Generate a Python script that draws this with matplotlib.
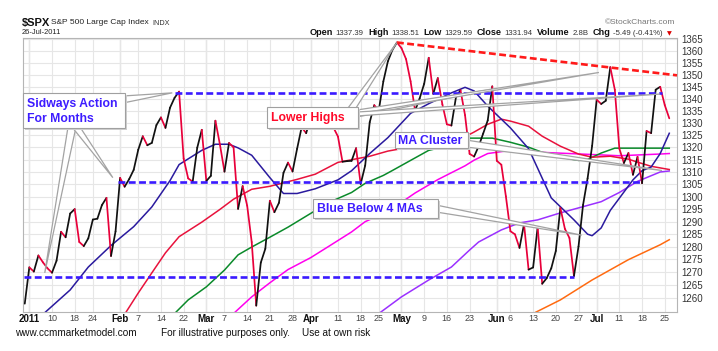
import numpy as np
import pandas as pd
import matplotlib
matplotlib.use("Agg")
import matplotlib.pyplot as plt
from matplotlib.collections import LineCollection
from matplotlib.patches import Polygon, Rectangle
from matplotlib.ticker import FixedLocator, NullLocator, NullFormatter

plt.rcParams['font.family'] = ['Liberation Sans', 'DejaVu Sans']

W, H = 718, 351

# trading days shown (31-Dec-2010 .. 26-Jul-2011)
holidays = ['2011-01-17', '2011-02-21', '2011-04-22', '2011-05-30', '2011-07-04']
days = pd.bdate_range('2010-12-31', '2011-07-26').drop(pd.to_datetime(holidays))

close = [1257.64,
         1271.87, 1270.20, 1276.56, 1273.85, 1271.50, 1269.75, 1274.48, 1285.96, 1283.76, 1293.24,
         1295.02, 1281.92, 1280.26, 1283.35, 1290.84, 1291.18, 1296.63, 1299.54, 1276.34, 1286.12,
         1307.59, 1304.03, 1307.10, 1310.87, 1319.05, 1324.57, 1320.88, 1321.87, 1329.15, 1332.32,
         1328.01, 1336.32, 1340.43, 1343.01, 1315.44, 1307.40, 1306.10, 1319.88, 1327.22,
         1306.33, 1308.44, 1330.97, 1321.15, 1310.13, 1321.82, 1320.02, 1295.11, 1304.28, 1296.39,
         1281.87, 1256.88, 1273.72, 1279.21, 1298.38, 1293.77, 1297.54, 1309.66, 1313.80, 1310.19,
         1319.44, 1328.26, 1325.83,
         1332.41, 1332.87, 1332.63, 1335.54, 1333.51, 1328.17, 1324.46, 1314.16, 1314.41, 1314.52,
         1319.68, 1305.14, 1312.62, 1330.36, 1337.38, 1335.25, 1347.24, 1355.66, 1360.48, 1363.61,
         1361.22, 1356.62, 1347.32, 1335.10, 1340.20, 1346.29, 1357.16, 1342.08, 1348.65, 1337.77,
         1329.47, 1328.98, 1340.68, 1343.60, 1333.27, 1317.37, 1316.28, 1320.47, 1325.69, 1331.10,
         1345.20,
         1314.55, 1312.94, 1300.16, 1286.17, 1284.94, 1279.56, 1289.00, 1270.98, 1271.83, 1287.87,
         1265.42, 1267.64, 1271.50, 1278.36, 1295.52, 1287.14, 1283.50, 1268.45, 1280.10, 1296.67,
         1307.41, 1320.64,
         1339.67, 1337.88, 1339.22, 1353.22, 1343.80, 1319.49, 1313.64, 1317.72, 1308.87, 1316.14,
         1305.44, 1326.73, 1325.84, 1343.80, 1345.02, 1337.43, 1331.94]

# moving averages (trading-day number, value)
ma_blue_day = [4, 10, 14, 19, 24, 28, 32, 34, 39, 42, 45, 47, 50, 54, 57, 60, 64, 69, 72, 76,
               80, 85, 89, 94, 97, 99, 102, 107, 111, 113, 116, 121, 124, 125, 127, 129, 134, 136,
               138, 140, 142]
ma_blue_val = [1253.5, 1263.0, 1272.0, 1280.5, 1288.0, 1295.9, 1306.5, 1313.0, 1318.8, 1321.3,
               1321.3, 1319.8, 1316.8, 1307.7, 1301.3, 1301.3, 1303.2, 1306.8, 1310.5, 1317.5,
               1324.0, 1334.0, 1338.0, 1342.5, 1344.8, 1343.3, 1337.0, 1328.0, 1319.5, 1311.5,
               1299.5, 1290.7, 1285.0, 1284.4, 1287.5, 1294.5, 1306.8, 1310.5, 1312.0, 1317.5,
               1325.8]
ma_red_day = [22, 25, 28, 31, 34, 39, 43, 46, 50, 54, 60, 64, 69, 76, 80, 86, 91, 96, 99, 102,
              105, 107, 111, 114, 118, 122, 125, 129, 133, 135, 138, 142]
ma_red_val = [1253.5, 1261.8, 1269.7, 1277.6, 1284.0, 1289.8, 1294.9, 1299.0, 1303.0, 1304.2,
              1307.0, 1309.1, 1313.9, 1316.4, 1318.5, 1320.5, 1322.2, 1323.4, 1326.3, 1329.5,
              1331.6, 1330.8, 1328.7, 1324.6, 1320.5, 1317.3, 1316.0, 1316.4, 1315.2, 1314.0,
              1312.3, 1311.0]
ma_green_day = [33, 36, 40, 44, 47, 50, 54, 58, 63, 67, 72, 75, 79, 81, 85, 89, 94, 98, 103, 107,
                111, 114, 118, 122, 124, 127, 130, 134, 138, 142]
ma_green_val = [1253.8, 1259.1, 1264.2, 1270.8, 1276.8, 1279.9, 1283.8, 1287.8, 1293.3, 1297.7,
                1301.7, 1305.4, 1308.6, 1310.6, 1314.7, 1318.8, 1320.9, 1323.8, 1323.8, 1322.1,
                1320.1, 1318.0, 1316.0, 1314.7, 1315.1, 1317.7, 1319.7, 1319.7, 1319.7, 1319.7]
ma_magenta_day = [46, 50, 54, 58, 63, 67, 72, 75, 78, 82, 86, 91, 94, 97, 99, 102, 107, 115, 125,
                  131, 140, 142]
ma_magenta_val = [1253.8, 1260.3, 1265.8, 1271.0, 1275.7, 1280.2, 1285.9, 1290.0, 1292.4, 1296.5,
                  1301.5, 1306.9, 1309.7, 1312.5, 1314.8, 1317.5, 1318.8, 1317.9, 1317.1, 1316.6,
                  1317.3, 1317.5]
ma_purple_day = [78, 83, 89, 94, 98, 100, 105, 109, 113, 118, 122, 127, 131, 135, 140, 142]
ma_purple_val = [1253.8, 1260.3, 1266.9, 1272.0, 1278.7, 1281.9, 1286.7, 1289.5, 1290.7, 1293.5,
                 1295.5, 1298.0, 1301.7, 1306.2, 1310.0, 1310.4]
ma_orange_day = [112, 118, 125, 133, 140, 142]
ma_orange_val = [1253.8, 1259.1, 1266.9, 1274.9, 1280.8, 1282.8]

# drawn-in trend lines: (start day, end day, start level, end level)
blue_levels = [(-0.2, 121, 1268.0, 1268.0), (20.6, 136, 1306.0, 1306.0), (33.2, 140.5, 1342.5, 1342.5)]
red_trend = (82, 143.7, 1363.6, 1349.8)

tick_dates = ['2011-01-03', '2011-01-10', '2011-01-18', '2011-01-24', '2011-02-01', '2011-02-07',
              '2011-02-14', '2011-02-22', '2011-03-01', '2011-03-07', '2011-03-14', '2011-03-21',
              '2011-03-28', '2011-04-01', '2011-04-11', '2011-04-18', '2011-04-25', '2011-05-02',
              '2011-05-09', '2011-05-16', '2011-05-23', '2011-06-01', '2011-06-06', '2011-06-13',
              '2011-06-20', '2011-06-27', '2011-07-01', '2011-07-11', '2011-07-18', '2011-07-25']
tick_labels = ['2011', '10', '18', '24', 'Feb', '7', '14', '22', 'Mar', '7', '14', '21', '28',
               'Apr', '11', '18', '25', 'May', '9', '16', '23', 'Jun', '6', '13', '20', '27',
               'Jul', '11', '18', '25']
month_labels = ['2011', 'Feb', 'Mar', 'Apr', 'May', 'Jun', 'Jul']
yticks = list(range(1260, 1366, 5))

BLUE_TXT = '#3d1cff'
RED_TXT = '#ff0a2a'

fig = plt.figure(figsize=(W / 100, H / 100), dpi=100)
ax = fig.add_axes([22.5 / W, 1 - 312 / H, (677 - 22.5) / W, (312 - 38) / H])
ax.set_yscale('log')
ax.set_xlim(-0.5, 143.7)
ax.set_ylim(1254.4, 1365.5)

xpos = np.arange(len(days))
tick_pos = [days.get_loc(pd.Timestamp(d)) for d in tick_dates]

ax.yaxis.set_major_locator(FixedLocator(yticks))
ax.yaxis.set_minor_locator(NullLocator())
ax.yaxis.set_minor_formatter(NullFormatter())
ax.set_yticklabels([str(v) for v in yticks])
ax.yaxis.tick_right()
ax.set_xticks(tick_pos)
ax.set_xticklabels(tick_labels)
ax.tick_params(axis='y', length=0, pad=3, labelsize=7, labelcolor='#333333')
ax.tick_params(axis='x', length=0, pad=1.5, labelsize=6.5, labelcolor='#444444')
for lab in ax.get_xticklabels():
    if lab.get_text() in month_labels:
        lab.set_fontweight('bold')
        lab.set_color('#111111')
        lab.set_fontsize(7)
ax.grid(True, color='#e6e6e6', lw=0.8)
for p, lab in zip(tick_pos, tick_labels):
    if lab in month_labels:
        ax.axvline(p, color='#cfcfcf', lw=0.9, zorder=0.5)
for s in ax.spines.values():
    s.set_color('#b5b5b5')
    s.set_linewidth(0.8)

# moving averages
ax.plot(ma_orange_day, ma_orange_val, color='#ff6a10', lw=1.1, zorder=2)
ax.plot(ma_purple_day, ma_purple_val, color='#9b30ff', lw=1.1, zorder=2)
ax.plot(ma_magenta_day, ma_magenta_val, color='#ff00ee', lw=1.1, zorder=2)
ax.plot(ma_green_day, ma_green_val, color='#0a8a2a', lw=1.1, zorder=2)
ax.plot(ma_red_day, ma_red_val, color='#e8123c', lw=1.1, zorder=2)
ax.plot(ma_blue_day, ma_blue_val, color='#2a1a9e', lw=1.1, zorder=2)

# close line, black on up days, red on down days
pts = np.column_stack([xpos, close])
segs = np.stack([pts[:-1], pts[1:]], axis=1)
seg_colors = ['#111111' if close[i + 1] >= close[i] else '#e8003a' for i in range(len(close) - 1)]
ax.add_collection(LineCollection(segs, colors=seg_colors, linewidths=1.25, zorder=3,
                                 capstyle='round', joinstyle='round'))

for x0, x1, y0, y1 in blue_levels:
    ax.plot([x0, x1], [y0, y1], color='#3a1aff', lw=1.9, dashes=(2.6, 1.3), zorder=4)
ax.plot(red_trend[:2], red_trend[2:], color='#ff1a1a', lw=1.9, dashes=(2.6, 1.3), zorder=4,
        clip_on=False)


def fxy(px, py):
    return (px / W, 1 - py / H)


def dxy(x, y):
    return tuple(fig.transFigure.inverted().transform(ax.transData.transform((x, y))))


def wedge(b1, b2, tip):
    poly = Polygon([fxy(*b1), fxy(*b2), dxy(*tip)], closed=True, transform=fig.transFigure,
                   fc='white', ec='#a3a3a3', lw=0.9, zorder=5)
    fig.add_artist(poly)


def box(x0, y0, x1, y1):
    sh = Rectangle(fxy(x0 + 2, y1 + 2), (x1 - x0) / W, (y1 - y0) / H, transform=fig.transFigure,
                   fc='#d0d0d0', ec='none', zorder=6)
    fig.add_artist(sh)
    r = Rectangle(fxy(x0, y1), (x1 - x0) / W, (y1 - y0) / H, transform=fig.transFigure,
                  fc='white', ec='#a0a0a0', lw=0.8, zorder=7)
    fig.add_artist(r)


# callout pointers
wedge((68, 127), (76, 127), (4.4, 1269.7))
wedge((72, 127), (80, 127), (19.4, 1307.7))
wedge((123, 96), (123, 103), (32.5, 1342.5))
wedge((348, 108), (356, 108), (82, 1363.6))
wedge((357, 111), (357, 117), (103, 1344.0))
wedge((357, 110), (357, 114), (126.5, 1351.0))
wedge((357, 112), (357, 116), (140, 1342.0))
wedge((466, 140), (466, 147), (140.4, 1310.6))
wedge((436, 205), (436, 212), (122.7, 1284.6))

box(23, 93, 125, 128)
box(267, 107, 358, 128)
box(395, 132, 468, 148)
box(313, 199, 438, 218)

bfont = dict(fontsize=8.8, fontweight='bold', zorder=8)
fig.text(*fxy(27, 104), 'Sidways Action', color=BLUE_TXT, va='center', ha='left', **bfont)
fig.text(*fxy(27, 119), 'For Months', color=BLUE_TXT, va='center', ha='left', **bfont)
fig.text(*fxy(308, 118), 'Lower Highs', color=RED_TXT, va='center', ha='center', **bfont)
fig.text(*fxy(430, 140.5), 'MA Cluster', color=BLUE_TXT, va='center', ha='center', **bfont)
fig.text(*fxy(370, 208.5), 'Blue Below 4 MAs', color=BLUE_TXT, va='center', ha='center', **bfont)

# header
fig.text(*fxy(22, 23), '$SPX', fontsize=8, fontweight='bold', va='center', color='#111111')
fig.text(*fxy(51, 23), 'S&P 500 Large Cap Index', fontsize=6, va='center', color='#222222')
fig.text(*fxy(152, 23.5), 'INDX', fontsize=5.2, va='center', color='#333333')
fig.text(*fxy(22, 32.5), '26-Jul-2011', fontsize=5.4, va='center', color='#222222')
fig.text(*fxy(675, 22.5), '\u00a9StockCharts.com', fontsize=6, va='center', ha='right',
         color='#777777')

renderer = fig.canvas.get_renderer()
pieces = [('Open', 'b'), ('1337.39', 'n'), ('High', 'b'), ('1338.51', 'n'), ('Low', 'b'),
          ('1329.59', 'n'), ('Close', 'b'), ('1331.94', 'n'), ('Volume', 'b'), ('2.8B', 'n'),
          ('Chg', 'b'), ('-5.49 (-0.41%)', 'n'), ('\u25bc', 'r')]
objs = []
for s, kind in pieces:
    if kind == 'b':
        t = fig.text(0, 1 - 35 / H, s, fontsize=6.6, fontweight='bold', color='#111111')
    elif kind == 'n':
        t = fig.text(0, 1 - 35 / H, s, fontsize=5.6, color='#333333')
    else:
        t = fig.text(0, 1 - 35 / H, s, fontsize=4.5, color='#dd0000',
                     family=['DejaVu Sans'])
    objs.append((t, kind))
gaps = {'b': 2.5, 'n': 4.5, 'r': 0}
total = sum(t.get_window_extent(renderer).width + gaps[k] for t, k in objs)
x = 672 - total
for t, k in objs:
    t.set_x(x / W)
    x += t.get_window_extent(renderer).width + gaps[k]

# footer
fig.text(*fxy(15, 333), 'www.ccmmarketmodel.com', fontsize=7.2, va='center', color='#111111')
fig.text(*fxy(161, 333), 'For illustrative purposes only.', fontsize=7.2, va='center',
         color='#111111')
fig.text(*fxy(302, 333), 'Use at own risk', fontsize=7.2, va='center', color='#111111')

fig.savefig('out.png', dpi=100, facecolor='white')
